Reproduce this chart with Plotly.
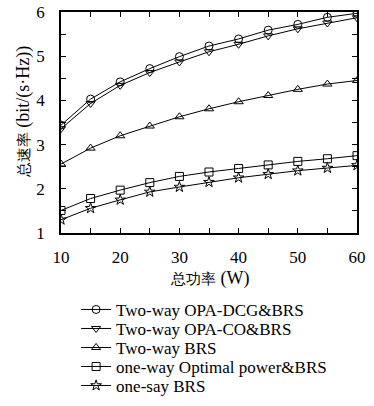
import plotly.graph_objects as go

power_w = [10, 15, 20, 25, 30, 35, 40, 45, 50, 55, 60]
opa_dcg = [3.44, 4.03, 4.42, 4.72, 4.99, 5.23, 5.39, 5.59, 5.72, 5.88, 5.97]
opa_co = [3.36, 3.93, 4.34, 4.63, 4.87, 5.10, 5.27, 5.46, 5.62, 5.75, 5.87]
two_way_brs = [2.56, 2.92, 3.20, 3.42, 3.63, 3.81, 3.97, 4.11, 4.25, 4.37, 4.45]
one_way_opt = [1.51, 1.78, 1.97, 2.14, 2.28, 2.38, 2.46, 2.54, 2.62, 2.68, 2.75]
one_say_brs = [1.30, 1.56, 1.75, 1.93, 2.04, 2.15, 2.25, 2.33, 2.41, 2.47, 2.53]

series_names = ["Two-way OPA-DCG&BRS", "Two-way OPA-CO&BRS", "Two-way BRS",
                "one-way Optimal power&BRS", "one-say BRS"]
series_values = [opa_dcg, opa_co, two_way_brs, one_way_opt, one_say_brs]
series_symbols = ["circle-open", "triangle-down-open", "triangle-up-open",
                  "square-open", "star-open"]

x_tick_vals = [10, 15, 20, 25, 30, 35, 40, 45, 50, 55, 60]
x_tick_text = ["10", "", "20", "", "30", "", "40", "", "50", "", "60"]
y_tick_vals = [1, 1.5, 2, 2.5, 3, 3.5, 4, 4.5, 5, 5.5, 6]
y_tick_text = ["1", "", "2", "", "3", "", "4", "", "5", "", "6"]

x_title_cjk, x_title_latin = "总功率", " (W)"
y_title_cjk, y_title_latin = "总速率", " (bit/(s·Hz))"

FONT = "Times New Roman, Times, Liberation Serif, serif"

legend_ids = ["legend", "legend2", "legend3", "legend4", "legend5"]
legend_rows_y = [-0.348, -0.434, -0.520, -0.606, -0.692]

fig = go.Figure()
for name, vals, sym, lid in zip(series_names, series_values, series_symbols, legend_ids):
    fig.add_trace(go.Scatter(
        x=power_w, y=vals, name=name, mode="lines+markers", legend=lid,
        line=dict(color="black", width=1),
        marker=dict(symbol=sym, size=8, color="black", line=dict(width=1, color="black")),
    ))

axis_common = dict(
    showline=True, linecolor="black", linewidth=1.5, mirror="allticks",
    ticks="inside", ticklen=5, tickwidth=1, tickcolor="black",
    showgrid=False, zeroline=False,
    tickfont=dict(family=FONT, size=17, color="black"),
)

fig.update_xaxes(range=[10, 60], tickmode="array", tickvals=x_tick_vals, ticktext=x_tick_text,
                 ticklabelstandoff=8, **axis_common)
fig.update_yaxes(range=[1, 6], tickmode="array", tickvals=y_tick_vals, ticktext=y_tick_text,
                 ticklabelstandoff=11, **axis_common)

legend_layout = {}
for lid, ly in zip(legend_ids, legend_rows_y):
    legend_layout[lid] = dict(
        x=0.051, xanchor="left", y=ly, yanchor="middle",
        font=dict(family=FONT, size=17, color="black"),
        bgcolor="rgba(0,0,0,0)", itemwidth=30, borderwidth=0,
    )

fig.update_layout(
    width=374, height=406,
    margin=dict(l=61, r=17, t=12, b=173, autoexpand=False),
    paper_bgcolor="white", plot_bgcolor="white",
    font=dict(family=FONT, color="black"),
    showlegend=True,
    **legend_layout,
)

fig.add_annotation(
    xref="paper", yref="paper", x=0.5, y=-0.204, xanchor="center", yanchor="middle",
    showarrow=False,
    text=f'<span style="font-size:15px">{x_title_cjk}</span>{x_title_latin}',
    font=dict(family=FONT, size=18, color="black"),
)
fig.add_annotation(
    xref="paper", yref="paper", x=-0.128, y=0.547, xanchor="center", yanchor="middle",
    showarrow=False, textangle=-90,
    text=f'<span style="font-size:15px">{y_title_cjk}</span>{y_title_latin}',
    font=dict(family=FONT, size=18, color="black"),
)

fig.write_html("out.html", config={"displayModeBar": False},
               post_script="document.body.style.margin='0';")
